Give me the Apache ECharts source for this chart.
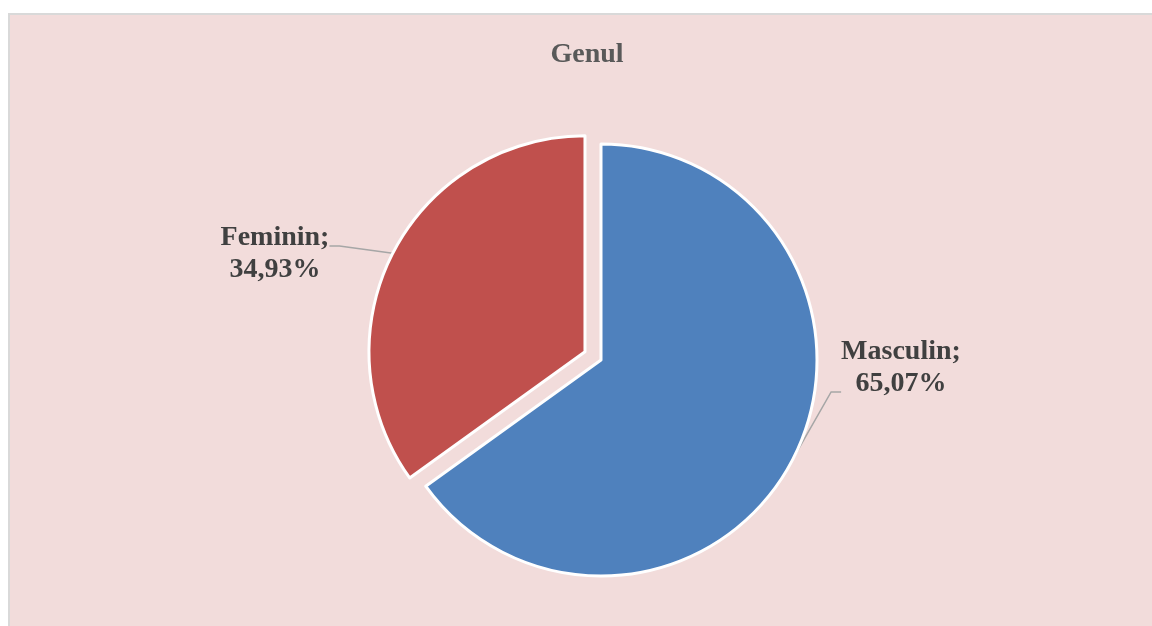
<!DOCTYPE html>
<html>
<head>
<meta charset="utf-8">
<script src="https://cdn.jsdelivr.net/npm/echarts@6/dist/echarts.min.js"></script>
<style>
html,body{margin:0;padding:0;background:#ffffff;}
#main{width:1152px;height:626px;}
</style>
</head>
<body>
<div id="main"></div>
<script>
var titleText = 'Genul';
var categories = ['Masculin', 'Feminin'];
var values = [65.07, 34.93];
var colors = ['#4F81BD', '#C0504D'];
var exploded = [false, true];
// label box centre x, box top y
var labelPositions = [[901, 336], [275, 206.5]];
var labelPaddings = [[0, 0, 48, 0], [15, 0, 0, 0]];

var CENTER = [601, 360];
var RADIUS = 216;
var EXPLODE = 18;

var chart = echarts.init(document.getElementById('main'));

var total = values.reduce(function (a, b) { return a + b; }, 0);

function offsetFor(i) {
  if (!exploded[i]) return [0, 0];
  var before = 0;
  for (var k = 0; k < i; k++) before += values[k];
  var midDeg = (before + values[i] / 2) / total * 360; // clockwise from 12 o'clock
  var rad = midDeg * Math.PI / 180;
  return [EXPLODE * Math.sin(rad), -EXPLODE * Math.cos(rad)];
}

var series = categories.map(function (cat, s) {
  var off = offsetFor(s);
  return {
    type: 'pie',
    center: [CENTER[0] + off[0], CENTER[1] + off[1]],
    radius: RADIUS,
    startAngle: 90,
    clockwise: true,
    avoidLabelOverlap: false,
    emphasis: { disabled: true },
    silent: true,
    label: {
      show: true,
      position: 'outside',
      formatter: function (p) {
        return p.name + ';\n' + p.value.toFixed(2).replace('.', ',') + '%';
      },
      fontFamily: 'Liberation Serif',
      fontWeight: 'bold',
      fontSize: 28,
      lineHeight: 32,
      color: '#404040'
    },
    labelLine: {
      show: true,
      length: 20,
      length2: 10,
      lineStyle: { color: '#A6A6A6', width: 1.5 }
    },
    labelLayout: function (params) {
      var p = labelPositions[params.dataIndex];
      return { x: p[0], y: p[1], align: 'center', verticalAlign: 'top' };
    },
    data: categories.map(function (c, i) {
      var own = i === s;
      return {
        name: c,
        value: values[i],
        itemStyle: own
          ? { color: colors[i], borderColor: '#ffffff', borderWidth: 3 }
          : { color: 'rgba(0,0,0,0)', borderWidth: 0 },
        label: own ? { show: true, padding: labelPaddings[i] } : { show: false },
        labelLine: { show: own }
      };
    })
  };
});

chart.setOption({
  backgroundColor: '#ffffff',
  animation: false,
  graphic: [{
    type: 'rect',
    shape: { x: 9, y: 14, width: 1150, height: 620 },
    style: { fill: '#F2DCDB', stroke: '#D9D9D9', lineWidth: 2 },
    z: -10
  }],
  title: {
    text: titleText,
    left: 582,
    top: 36,
    textAlign: 'center',
    textStyle: {
      fontFamily: 'Liberation Serif',
      fontWeight: 'bold',
      fontSize: 28,
      color: '#595959'
    }
  },
  series: series
});
</script>
</body>
</html>
